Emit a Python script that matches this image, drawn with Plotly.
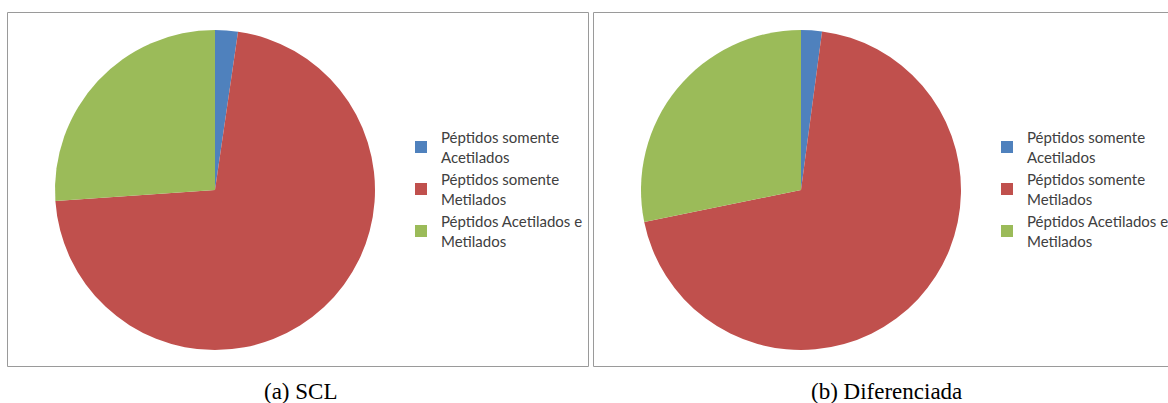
import plotly.graph_objects as go

categories = ["Péptidos somente<br>Acetilados", "Péptidos somente<br>Metilados", "Péptidos Acetilados e<br>Metilados"]
scl_values = [2.3, 71.6, 26.1]
dif_values = [2.1, 69.7, 28.2]
captions = ["(a) SCL", "(b) Diferenciada"]
colors = ["#4F81BD", "#C0504D", "#9BBB59"]

W, H = 1168, 403

def px(x):
    return x / W

def py(y):
    return 1 - y / H

# second pie gets invisibly distinct labels so its own legend is drawn
dif_labels = [c + "\u200b" for c in categories]

fig = go.Figure()
fig.add_trace(go.Pie(
    labels=categories, values=scl_values, sort=False, direction="clockwise", rotation=0,
    marker=dict(colors=colors, line=dict(width=0)), textinfo="none", hoverinfo="label+value",
    domain=dict(x=[px(55), px(375)], y=[py(350), py(30)]), legend="legend",
))
fig.add_trace(go.Pie(
    labels=dif_labels, values=dif_values, sort=False, direction="clockwise", rotation=0,
    marker=dict(colors=colors, line=dict(width=0)), textinfo="none", hoverinfo="label+value",
    domain=dict(x=[px(641), px(961)], y=[py(350), py(30)]), legend="legend2",
))

legend_font = dict(family="Lato", size=15, color="#404040")
common = dict(font=legend_font, bgcolor="rgba(0,0,0,0)", xanchor="left", yanchor="top",
              xref="container", yref="container",
              itemclick=False, itemdoubleclick=False, tracegroupgap=0, itemwidth=30)
fig.update_layout(
    width=W, height=H,
    margin=dict(l=0, r=0, t=0, b=0, autoexpand=False),
    paper_bgcolor="white",
    showlegend=True,
    legend=dict(x=px(401), y=py(121), **common),
    legend2=dict(x=px(987), y=py(121), **common),
    shapes=[
        dict(type="rect", xref="paper", yref="paper", x0=px(7.5), x1=px(588.5), y0=py(366.5), y1=py(12.5),
             line=dict(color="#9a9a9a", width=1), fillcolor="rgba(0,0,0,0)"),
        dict(type="rect", xref="paper", yref="paper", x0=px(593.5), x1=px(1172), y0=py(366.5), y1=py(12.5),
             line=dict(color="#9a9a9a", width=1), fillcolor="rgba(0,0,0,0)"),
    ],
    annotations=[
        dict(text=captions[0], x=px(300), y=py(391), xref="paper", yref="paper", showarrow=False,
             font=dict(family="Liberation Serif", size=23, color="black"), xanchor="center", yanchor="middle"),
        dict(text=captions[1], x=px(886), y=py(391), xref="paper", yref="paper", showarrow=False,
             font=dict(family="Liberation Serif", size=23, color="black"), xanchor="center", yanchor="middle"),
    ],
)

fig.write_html("out.html", config={"displayModeBar": False},
               post_script="document.body.style.margin='0px';document.body.style.overflow='hidden';")
